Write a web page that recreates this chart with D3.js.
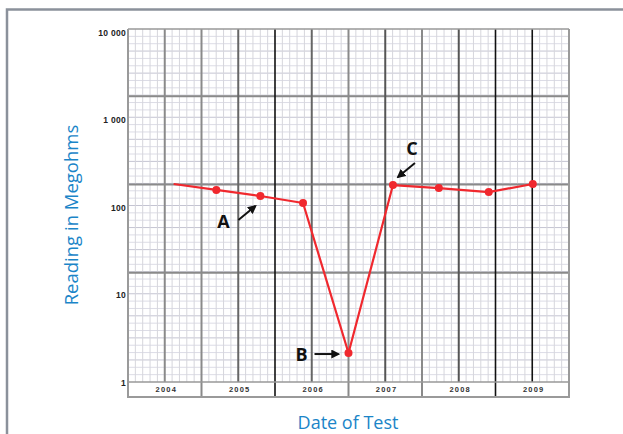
<!DOCTYPE html>
<html>
<head>
<meta charset="utf-8">
<script src="https://cdn.jsdelivr.net/npm/d3@7"></script>
<style>
  body { margin: 0; background: #fff; }
  svg { display: block; }
</style>
</head>
<body>
<div id="container"></div>
<script>
// test readings (first one is only the start of the line, no dot)
const testDates = ["2004-08-15", "2005-03-15", "2005-10-20", "2006-05-20", "2007-01-01",
                   "2007-08-10", "2008-03-25", "2008-11-28", "2009-07-05"];
const readings = [188, 161, 137, 114, 2.2, 183, 169, 152, 188];
const years = ["2004", "2005", "2006", "2007", "2008", "2009"];
const yTicks = [1, 10, 100, 1000, 10000];
const yTickLabels = ["1", "10", "100", "1 000", "10 000"];

// annotations: letter, which reading it points at
const notes = [
  { letter: "A", index: 2 },
  { letter: "B", index: 4 },
  { letter: "C", index: 5 }
];

const width = 623, height = 434;
const plotL = 128, plotR = 569, plotT = 29, plotB = 382, stripH = 15;

const svg = d3.select("#container").append("svg")
  .attr("width", width)
  .attr("height", height)
  .attr("viewBox", [0, 0, width, height]);

// outer frame
svg.append("rect")
  .attr("x", 7).attr("y", 9.5)
  .attr("width", 700).attr("height", 500)
  .attr("fill", "none")
  .attr("stroke", "#8b919b")
  .attr("stroke-width", 2.5);

const data = testDates.map((d, i) => ({ date: new Date(d), value: readings[i] }));

const x = d3.scaleUtc()
  .domain([new Date("2004-01-01"), new Date("2010-01-01")])
  .range([plotL, plotR]);
const y = d3.scaleLog()
  .domain([1, 10000])
  .range([383, 33]);

// graph paper grid (paper units)
const px = d3.scaleLinear().domain([0, 60]).range([plotL, plotR]);
const py = d3.scaleLinear().domain([0, 48]).range([plotT, plotB]);

const grid = svg.append("g");

grid.selectAll(".hmin")
  .data(d3.range(1, 48))
  .join("line")
  .attr("x1", plotL).attr("x2", plotR)
  .attr("y1", d => py(d)).attr("y2", d => py(d))
  .attr("stroke", d => d % 3 === 0 ? "#c4c4d2" : "#dcdce6")
  .attr("stroke-width", 1);

grid.selectAll(".vmin")
  .data(d3.range(1, 60).filter(d => d % 5))
  .join("line")
  .attr("y1", plotT).attr("y2", plotB)
  .attr("x1", d => px(d)).attr("x2", d => px(d))
  .attr("stroke", "#d6d6dc")
  .attr("stroke-width", 1);

grid.selectAll(".hmaj")
  .data([9, 21, 33])
  .join("line")
  .attr("x1", plotL).attr("x2", plotR)
  .attr("y1", d => py(d) + 1).attr("y2", d => py(d) + 1)
  .attr("stroke", "#8a8a8a")
  .attr("stroke-width", 2);

// heavy verticals, every 5 paper units
const vColor = { 5: "#8a8a8a", 10: "#8a8a8a", 15: "#666", 20: "#111", 25: "#666", 30: "#8a8a8a",
                 35: "#555", 40: "#8a8a8a", 45: "#555", 50: "#111", 55: "#111" };
grid.selectAll(".vmaj")
  .data(d3.range(5, 60, 5))
  .join("line")
  .attr("y1", plotT)
  .attr("y2", d => d % 10 === 0 ? plotB + stripH : plotB)
  .attr("x1", d => px(d)).attr("x2", d => px(d))
  .attr("stroke", d => vColor[d])
  .attr("stroke-width", d => vColor[d] === "#111" ? 1.6 : 2);

// border of the paper and year strip
grid.append("path")
  .attr("d", `M${plotL},${plotT}H${plotR}`)
  .attr("stroke", "#999").attr("stroke-width", 1.5);
grid.append("path")
  .attr("d", `M${plotL},${plotT}V${plotB + stripH}H${plotR}V${plotT}`)
  .attr("fill", "none")
  .attr("stroke", "#9a9a9a").attr("stroke-width", 2);
grid.append("line")
  .attr("x1", plotL).attr("x2", plotR)
  .attr("y1", plotB).attr("y2", plotB)
  .attr("stroke", "#999").attr("stroke-width", 1.5);

// y tick labels
svg.append("g")
  .attr("font-family", "Liberation Sans, Arial, sans-serif")
  .attr("font-weight", "bold")
  .attr("font-size", 8.5)
  .attr("text-anchor", "end")
  .attr("letter-spacing", "0.3")
  .selectAll("text")
  .data(yTicks)
  .join("text")
  .attr("x", plotL - 2)
  .attr("y", d => y(d))
  .attr("dy", "0.35em")
  .attr("fill", "#222")
  .text((d, i) => yTickLabels[i]);

// year labels
svg.append("g")
  .attr("font-family", "Liberation Sans, Arial, sans-serif")
  .attr("font-weight", "bold")
  .attr("font-size", 7.5)
  .attr("text-anchor", "middle")
  .attr("letter-spacing", "1.2")
  .selectAll("text")
  .data(years)
  .join("text")
  .attr("x", d => x(new Date(d + "-07-02")) + 1.5)
  .attr("y", plotB + stripH / 2)
  .attr("dy", "0.35em")
  .attr("fill", "#333")
  .text(d => d);

// readings
const line = d3.line()
  .x(d => x(d.date))
  .y(d => y(d.value));

svg.append("path")
  .datum(data)
  .attr("d", line)
  .attr("fill", "none")
  .attr("stroke", "#f0282e")
  .attr("stroke-width", 2.2)
  .attr("stroke-linejoin", "round");

svg.append("g")
  .selectAll("circle")
  .data(data.slice(1))
  .join("circle")
  .attr("cx", d => x(d.date))
  .attr("cy", d => y(d.value))
  .attr("r", 4)
  .attr("fill", "#f0282e");

// annotations
svg.append("defs").append("marker")
  .attr("id", "head")
  .attr("viewBox", "0 0 10 10")
  .attr("refX", 8).attr("refY", 5)
  .attr("markerWidth", 4.5).attr("markerHeight", 4.5)
  .attr("orient", "auto")
  .append("path")
  .attr("d", "M0,0L10,5L0,10z")
  .attr("fill", "#111");

// offsets of letter and arrow from the reading they point at
const noteGeom = {
  A: { lx: -37, ly: 26, x1: -22, y1: 24, x2: -5, y2: 10 },
  B: { lx: -47, ly: 2, x1: -34, y1: 1, x2: -10, y2: 1 },
  C: { lx: 19, ly: -36, x1: 22, y1: -22, x2: 5, y2: -8 }
};

const noteG = svg.append("g");
notes.forEach(n => {
  const d = data[n.index], g = noteGeom[n.letter];
  const cx = x(d.date), cy = y(d.value);
  noteG.append("text")
    .attr("x", cx + g.lx)
    .attr("y", cy + g.ly)
    .attr("dy", "0.35em")
    .attr("text-anchor", "middle")
    .attr("font-family", "Open Sans, sans-serif")
    .attr("font-weight", "bold")
    .attr("font-size", 18)
    .attr("fill", "#111")
    .text(n.letter);
  noteG.append("line")
    .attr("x1", cx + g.x1).attr("y1", cy + g.y1)
    .attr("x2", cx + g.x2).attr("y2", cy + g.y2)
    .attr("stroke", "#111")
    .attr("stroke-width", 2)
    .attr("marker-end", "url(#head)");
});

// axis titles
svg.append("text")
  .attr("transform", "translate(78,215) rotate(-90)")
  .attr("text-anchor", "middle")
  .attr("font-family", "Open Sans, sans-serif")
  .attr("font-size", 18.5)
  .attr("fill", "#1b85c8")
  .text("Reading in Megohms");

svg.append("text")
  .attr("x", 348)
  .attr("y", 429)
  .attr("text-anchor", "middle")
  .attr("font-family", "Open Sans, sans-serif")
  .attr("font-size", 18)
  .attr("fill", "#1b85c8")
  .text("Date of Test");
</script>
</body>
</html>
